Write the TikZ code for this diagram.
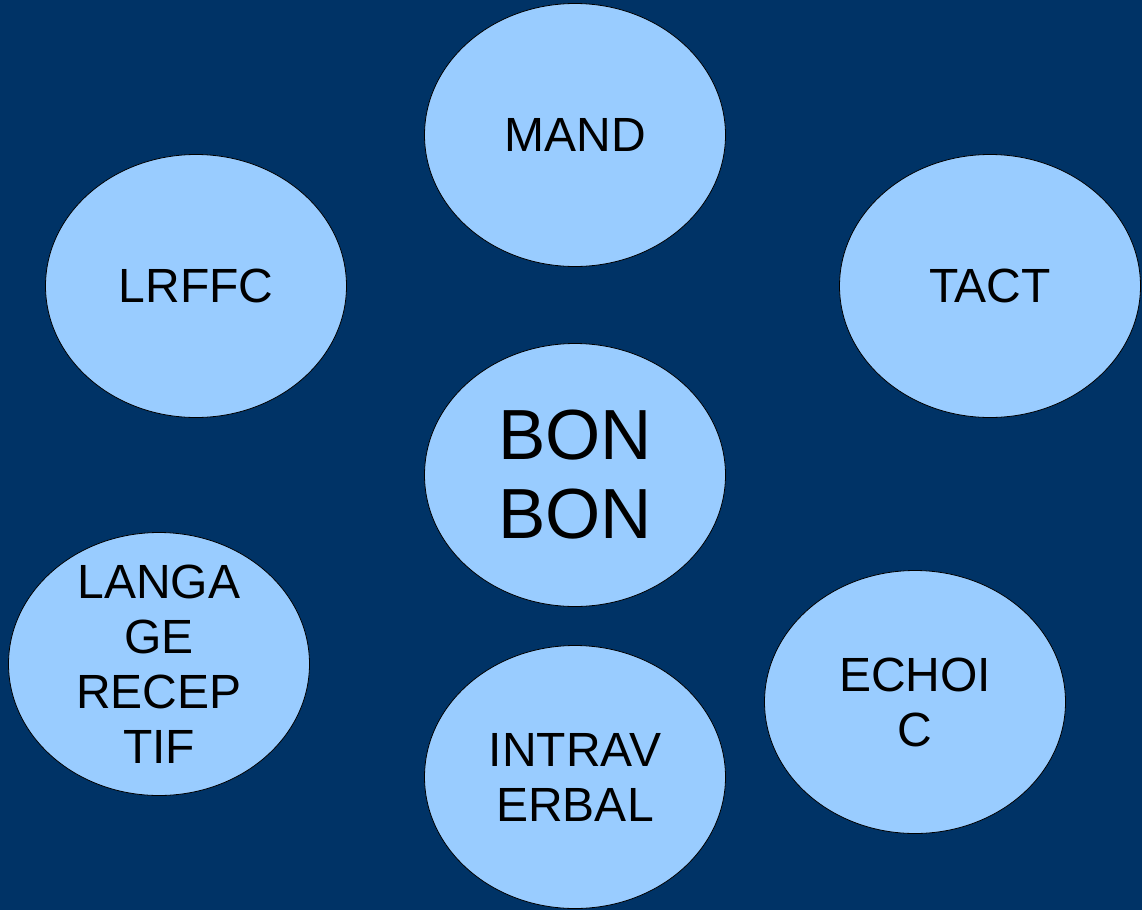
\documentclass[tikz,border=0pt]{standalone}
\usepackage{fontspec}
\setmainfont{Liberation Sans}
\usetikzlibrary{shapes.geometric}
\definecolor{bgblue}{HTML}{003366}
\definecolor{bubble}{HTML}{99CCFF}
\begin{document}
\begin{tikzpicture}[x=1pt,y=-1pt,
  bubblenode/.style={ellipse, draw=black, line width=0.8pt, fill=bubble,
    minimum width=301pt, minimum height=263pt, inner sep=0pt, align=center,
    text=black, font=\fontsize{48}{55}\selectfont},
  bignode/.style={bubblenode, font=\fontsize{71}{79}\selectfont},
  labeltext/.style={inner sep=0pt, align=center, text=black,
    font=\fontsize{48}{55}\selectfont}]
\fill[bgblue] (0,0) rectangle (1142,910);
\useasboundingbox (0,0) rectangle (1142,910);
\node[bubblenode] (mand) at (575,135) {MAND};
\node[bubblenode] (lrffc) at (196,286) {LRFFC};
\node[bubblenode] (tact) at (990,286) {TACT};
\node[bignode] (bonbon) at (575,475) {BON\\BON};
\node[bubblenode] (langage) at (159,664) {};
\node[labeltext] (langagetext) at (langage.center) {LANGA\\GE\\RECEP\\TIF};
\node[bubblenode] (echoic) at (915,702) {ECHOI\\C};
\node[bubblenode] (intraverbal) at (575,777) {INTRAV\\ERBAL};
\end{tikzpicture}
\end{document}
